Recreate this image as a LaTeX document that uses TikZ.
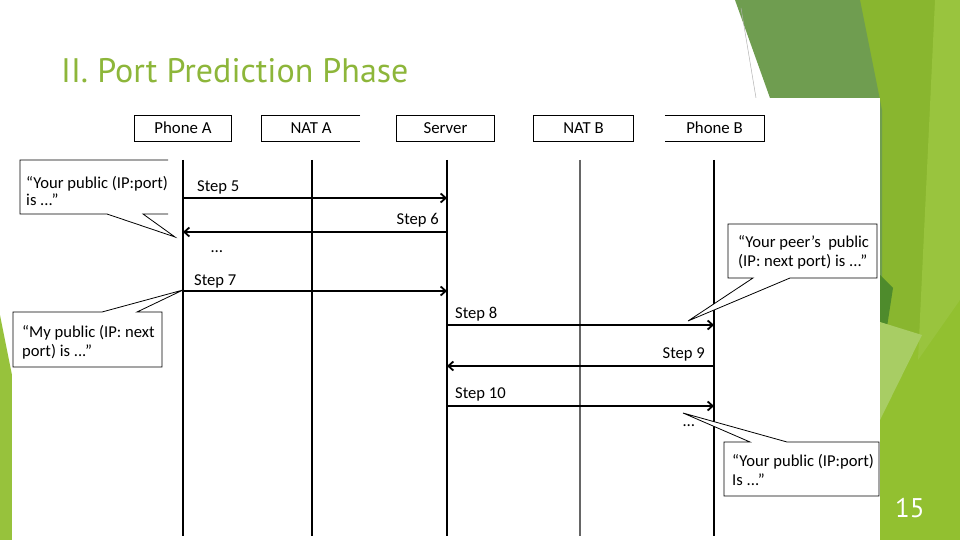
\documentclass[tikz,border=0pt]{standalone}
\usepackage{fontspec}
\setmainfont{Carlito}
\newfontfamily\titlefont{PT Sans}
\usetikzlibrary{arrows.meta}
\definecolor{titlegreen}{RGB}{141,182,58}
\definecolor{olive}{RGB}{111,157,80}
\definecolor{midgreen}{RGB}{137,182,47}
\definecolor{lightgreen}{RGB}{153,196,62}
\definecolor{palegreen}{RGB}{168,205,100}
\definecolor{darkgreen}{RGB}{78,139,44}
\definecolor{stripegreen}{RGB}{151,194,60}
\definecolor{lowgreen}{RGB}{146,192,48}
\begin{document}
\begin{tikzpicture}[x=1pt,y=-1pt,
  hdr/.style={minimum height=25pt, inner sep=0pt, text height=13pt, text depth=2pt, font=\fontsize{16.8}{19}\selectfont},
  lbl/.style={font=\fontsize{16.6}{19}\selectfont, inner sep=0pt, anchor=base west},
  lblr/.style={lbl, anchor=base east},
  msg/.style={line width=1.8pt, -{Straight Barb[length=5pt,width=9pt]}},
  life/.style={line width=1.8pt},
  thinlife/.style={line width=1.1pt},
  callout/.style={draw=black, line width=0.8pt, fill=white, line join=miter},
  boxline/.style={draw=black, line width=0.9pt}
]
\useasboundingbox (0,0) rectangle (960,540);
% background decoration
\fill[white] (0,0) rectangle (960,540);
\fill[midgreen] (858,0) rectangle (960,540);
\fill[lowgreen] (880,380) -- (960,300) -- (960,540) -- (880,540) -- cycle;
\fill[lightgreen] (935,0) -- (960,0) -- (960,300) -- (918,360) -- cycle;
\fill[olive] (735,0) -- (860,0) -- (882,110) -- (882,400) -- (770,98) -- cycle;
\fill[darkgreen] (880,275) -- (893,288) -- (880,372) -- cycle;
\fill[palegreen] (880,322) -- (922,335) -- (880,420) -- cycle;
\draw[gray!60, line width=0.5pt] (741,8) -- (756,98);
\fill[stripegreen] (0,315) -- (14,385) -- (14,540) -- (0,540) -- cycle;
% image area
\fill[white] (12,98) rectangle (880,540);
% title
\node[font=\titlefont\fontsize{34}{38}\selectfont, text=titlegreen, inner sep=0pt, anchor=base west] (title) at (61,83) {II. Port Prediction Phase};
% page number
\node[font=\titlefont\fontsize{27}{30}\selectfont, text=white, inner sep=0pt, anchor=base west] (pnum) at (895,517) {15};
% headers
\node[hdr, minimum width=96pt] (pa) at (183,128.5) {Phone A};
\node[hdr, minimum width=98pt] (na) at (311,128.5) {NAT A};
\node[hdr, minimum width=97pt] (sv) at (445.5,128.5) {Server};
\node[hdr, minimum width=99pt] (nb) at (583.5,128.5) {NAT B};
\node[hdr, minimum width=99pt] (pb) at (714.5,128.5) {Phone B};
\draw[boxline] (pa.north west) rectangle (pa.south east);
\draw[boxline] (na.north east) -- (na.north west) -- (na.south west) -- (na.south east);
\draw[boxline] (sv.north west) rectangle (sv.south east);
\draw[boxline] (nb.north west) rectangle (nb.south east);
\draw[boxline] (pb.north west) -- (pb.north east) -- (pb.south east) -- (pb.south west);
% lifelines
\coordinate (paT) at (183,160); \coordinate (paB) at (183,536);
\coordinate (naT) at (312,160); \coordinate (naB) at (312,536);
\coordinate (svT) at (447,160); \coordinate (svB) at (447,536);
\coordinate (nbT) at (580,160); \coordinate (nbB) at (580,536);
\coordinate (pbT) at (714,160); \coordinate (pbB) at (714,536);
\draw[life] (paT) -- (paB);
\draw[thinlife] (naT) -- (naB);
\draw[life] (svT) -- (svB);
\draw[thinlife, gray!80!black] (nbT) -- (nbB);
\draw[life] (pbT) -- (pbB);
% message end points
\coordinate (s5a) at (183,198); \coordinate (s5b) at (447,198);
\coordinate (s6a) at (447,232); \coordinate (s6b) at (183,232);
\coordinate (s7a) at (183,291); \coordinate (s7b) at (447,291);
\coordinate (s8a) at (447,325); \coordinate (s8b) at (714,325);
\coordinate (s9a) at (714,366); \coordinate (s9b) at (447,366);
\coordinate (s10a) at (447,406); \coordinate (s10b) at (714,406);
\draw[msg] (s5a) -- (s5b);
\draw[msg] (s6a) -- (s6b);
\draw[msg] (s7a) -- (s7b);
\draw[msg] (s8a) -- (s8b);
\draw[msg] (s9a) -- (s9b);
\draw[msg] (s10a) -- (s10b);
\node[lbl] (l5) at (197,191) {Step 5};
\node[lblr] (l6) at (439,224) {Step 6};
\node[lbl] (d1) at (211,252) {\dots};
\node[lbl] (l7) at (194,285) {Step 7};
\node[lbl] (l8) at (455,318) {Step 8};
\node[lblr] (l9) at (705,358) {Step 9};
\node[lbl] (l10) at (455,398) {Step 10};
\node[lbl] (d2) at (683,426) {\dots};
% callouts
\draw[callout] (168,160) -- (20,160) -- (20,214) -- (107,214) -- (175,237) -- (143,214) -- (168,214);
\node[lbl] (c1a) at (26,188) {“Your public (IP:port)};
\node[lbl] (c1b) at (26,205) {is ...”};
\draw[callout] (13,312) -- (102,312) -- (183,290) -- (137,312) -- (162,312) -- (162,367) -- (13,367) -- cycle;
\node[lbl] (c2a) at (22,337) {“My public (IP: next};
\node[lbl] (c2b) at (22,356) {port) is ...”};
\draw[callout] (728,224) -- (877,224) -- (877,278) -- (790,278) -- (688,321) -- (753,278) -- (728,278) -- cycle;
\node[lbl] (c3a) at (738,247) {“Your peer’s\ \ public};
\node[lbl] (c3b) at (738,266) {(IP: next port) is ...”};
\draw[callout] (724,442) -- (750,442) -- (683,413) -- (787,442) -- (879,442) -- (879,496) -- (724,496) -- cycle;
\node[lbl] (c4a) at (732,466) {“Your public (IP:port)};
\node[lbl] (c4b) at (732,485) {Is ...”};
\end{tikzpicture}
\end{document}
